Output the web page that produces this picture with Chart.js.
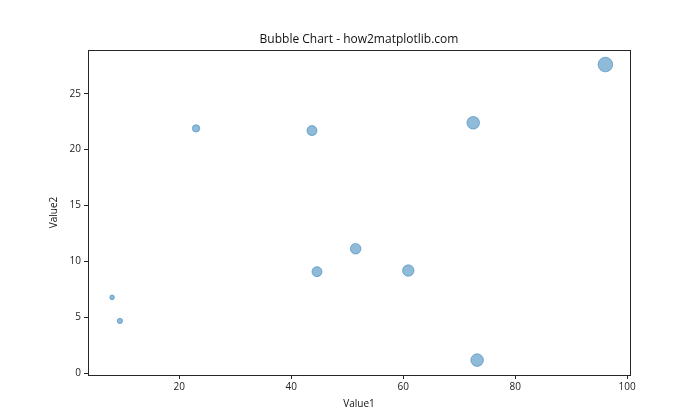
<!DOCTYPE html>
<html><head><meta charset="utf-8">
<script src="https://cdn.jsdelivr.net/npm/chart.js@4"></script>
<style>html,body{margin:0;padding:0;background:#fff}#wrap{width:700px;height:420px}</style>
</head><body><div id="wrap"><canvas id="c" width="700" height="420"></canvas></div>
<script>
const chartTitle = 'Bubble Chart - how2matplotlib.com';
const value1 = [23.0, 43.7, 72.5, 96.1, 8.0, 9.4, 44.6, 51.5, 60.9, 73.2];
const value2 = [21.9, 21.7, 22.4, 27.6, 6.8, 4.7, 9.1, 11.15, 9.2, 1.2];
const sizes  = [3.7, 5.0, 6.3, 7.3, 2.3, 2.6, 5.0, 5.3, 5.7, 6.3];
const xTicks = [20, 40, 60, 80, 100];
const yTicks = [0, 5, 10, 15, 20, 25];

const pts = value1.map((x, i) => ({x: x, y: value2[i], r: sizes[i]}));
const font = "'Open Sans', 'DejaVu Sans', sans-serif";

const frame = {
  id: 'frame',
  afterDraw(chart) {
    const a = chart.chartArea, ctx = chart.ctx;
    ctx.save();
    ctx.strokeStyle = '#262626';
    ctx.lineWidth = 1;
    ctx.strokeRect(Math.round(a.left) + 0.5, Math.round(a.top) + 0.5,
                   Math.round(a.right - a.left), Math.round(a.bottom - a.top));
    ctx.fillStyle = '#111';
    ctx.font = '12px ' + font;
    ctx.textAlign = 'center';
    ctx.textBaseline = 'middle';
    ctx.fillText(chartTitle, (a.left + a.right) / 2, a.top - 10);
    ctx.restore();
  }
};

new Chart(document.getElementById('c'), {
  type: 'bubble',
  data: { datasets: [{
    data: pts,
    backgroundColor: 'rgba(31,119,180,0.5)',
    borderColor: 'rgba(31,119,180,0.5)',
    borderWidth: 1,
    hoverRadius: 0
  }]},
  options: {
    responsive: false,
    animation: false,
    layout: { padding: { left: 44, right: 70, top: 50, bottom: 7 } },
    plugins: {
      legend: { display: false },
      tooltip: { enabled: false },
      title: { display: false }
    },
    scales: {
      x: {
        type: 'linear', min: 3.7, max: 100.5,
        afterBuildTicks: s => { s.ticks = xTicks.map(v => ({value: v})); },
        afterFit: s => { s.height = 38; },
        grid: { drawOnChartArea: false, drawTicks: true, tickLength: 4, color: '#262626' },
        border: { display: false },
        ticks: { color: '#222', font: { family: font, size: 10 }, padding: 2, maxRotation: 0 },
        title: { display: true, text: 'Value1', color: '#111', font: { family: font, size: 10 }, padding: { top: 2, bottom: 3 } }
      },
      y: {
        type: 'linear', min: -0.13, max: 28.9,
        afterBuildTicks: s => { s.ticks = yTicks.map(v => ({value: v})); },
        afterFit: s => { s.width = 44; },
        grid: { drawOnChartArea: false, drawTicks: true, tickLength: 4, color: '#262626' },
        border: { display: false },
        ticks: { color: '#222', font: { family: font, size: 10 }, padding: 3 },
        title: { display: true, text: 'Value2', color: '#111', font: { family: font, size: 10 }, padding: { top: 4, bottom: 4 } }
      }
    }
  },
  plugins: [frame]
});
</script></body></html>
